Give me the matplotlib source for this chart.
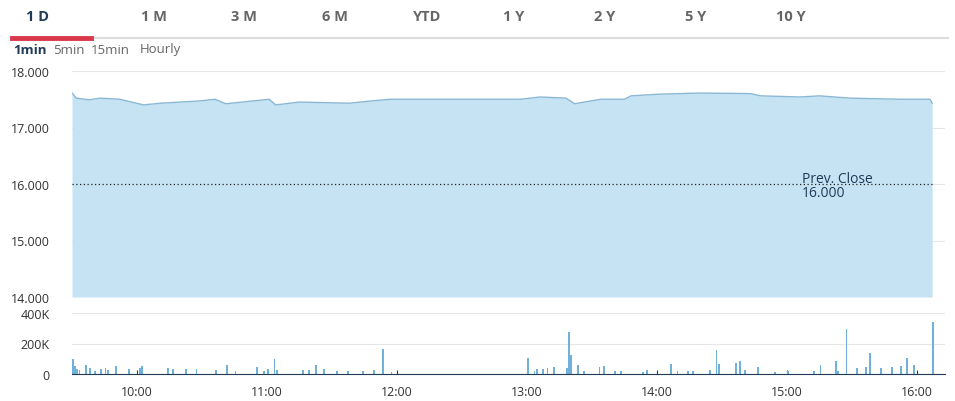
import numpy as np
import matplotlib.pyplot as plt

plt.rcParams['font.family'] = ['Open Sans', 'DejaVu Sans']

# minutes after 09:30
price_min = [0, 2, 8, 13, 22, 33, 41, 59, 66, 71, 91, 94, 105, 128, 138, 147,
             207, 216, 228, 232, 244, 255, 258, 271, 290, 313, 318, 336, 345, 359, 382, 396, 397]
price = [17.61, 17.52, 17.49, 17.52, 17.50, 17.40, 17.43, 17.47, 17.50, 17.42, 17.50, 17.40,
         17.45, 17.43, 17.47, 17.50, 17.50, 17.54, 17.52, 17.42, 17.50, 17.50, 17.56, 17.59,
         17.61, 17.60, 17.56, 17.54, 17.56, 17.52, 17.50, 17.50, 17.43]
prev_close = 16.0

vol_min = [0, 1, 2, 3, 6, 8, 10, 13, 15, 16, 20, 26, 31, 32, 44, 46, 52, 57, 66, 71, 75, 85,
           88, 90, 93, 94, 106, 109, 112, 116, 122, 127, 134, 139, 143, 147,
           210, 213, 214, 217, 219, 222, 228, 229, 230, 233, 236, 243, 245, 250, 253, 263, 265,
           276, 279, 284, 286, 294, 297, 298, 306, 308, 310, 316, 324, 330, 342, 345, 352, 353,
           357, 362, 366, 368, 373, 378, 382, 385, 388, 397]
volume = [97, 50, 32, 26, 58, 39, 22, 32, 37, 28, 50, 32, 37, 50, 37, 32, 32, 32, 26, 58, 22, 45,
          19, 32, 97, 26, 26, 28, 58, 32, 19, 22, 19, 26, 162, 11,
          104, 22, 32, 32, 37, 43, 37, 275, 123, 58, 22, 43, 50, 22, 17, 15,
          26, 63, 22, 22, 22, 26, 156, 65, 71, 84, 26, 43, 15, 22, 22, 58, 84,
          22, 292, 37, 45, 136, 39, 43, 54, 104, 58, 344]

hour_ticks = ["10:00", "11:00", "12:00", "13:00", "14:00", "15:00", "16:00"]
tabs = ["1 D", "1 M", "3 M", "6 M", "YTD", "1 Y", "2 Y", "5 Y", "10 Y"]
tab_x = [26, 141, 231, 322, 413, 503, 594, 685, 776]
intervals = ["1min", "5min", "15min", "Hourly"]

W, H = 955, 402
fig = plt.figure(figsize=(W / 100, H / 100), dpi=100)
xmax = (945 - 72) * 60 / 130
text_c = '#333333'
grid_c = '#e6e6e6'

# price panel
ax = fig.add_axes([72 / W, 1 - 298 / H, (945 - 72) / W, (298 - 72) / H])
ax.fill_between(price_min, price, 14, color='#c6e3f4', lw=0)
ax.plot(price_min, price, color='#8ab8d4', lw=1)
ax.axhline(prev_close, color='#222222', ls=(0, (1, 2)), lw=0.9, xmax=(397) / xmax)
ax.text(337, 15.97, "Prev. Close\n16.000", color='#1f3b57', fontsize=10,
        va='center', ha='left', linespacing=0.95)
ax.set_xlim(0, xmax)
ax.set_ylim(14, 18)
ax.set_yticks([14, 15, 16, 17, 18])
ax.set_yticklabels(["14.000", "15.000", "16.000", "17.000", "18.000"])
ax.grid(axis='y', color=grid_c, lw=0.8)
ax.set_axisbelow(True)
ax.set_xticks([])
for s in ax.spines.values():
    s.set_visible(False)
ax.tick_params(axis='y', length=0, labelsize=9, labelcolor=text_c, pad=16)

# volume panel
vx = fig.add_axes([72 / W, 1 - 375 / H, (945 - 72) / W, (375 - 314) / H])
vx.bar(vol_min, volume, width=0.9, color='#6fb1d9', align='edge')
vx.set_xlim(0, xmax)
vx.set_ylim(0, 400)
vx.set_yticks([0, 200, 400])
vx.set_yticklabels(["0", "200K", "400K"])
vx.grid(axis='y', color=grid_c, lw=0.8)
vx.set_axisbelow(True)
for s in ['top', 'right', 'left']:
    vx.spines[s].set_visible(False)
vx.spines['bottom'].set_color('#1f3b57')
vx.set_xticks([30 + 60 * i for i in range(len(hour_ticks))])
vx.set_xticklabels(hour_ticks)
vx.tick_params(axis='y', length=0, labelsize=9, labelcolor=text_c, pad=16)
vx.tick_params(axis='x', length=3, direction='in', color='#1f3b57', labelsize=9,
               labelcolor=text_c, pad=8)

# tabs header
for i, (t, x) in enumerate(zip(tabs, tab_x)):
    fig.text(x / W, 1 - 17 / H, t, fontsize=10.5, fontweight='bold',
             color='#1f3b57' if i == 0 else '#666666', va='center', ha='left')
fig.add_artist(plt.Line2D([12 / W, 948 / W], [1 - 39 / H] * 2, color='#dddddd', lw=1.5))
fig.add_artist(plt.Line2D([12 / W, 91 / W], [1 - 38.5 / H] * 2, color='#d9374a', lw=3.5))
ix = [13, 53, 91, 140]
for i, (t, x) in enumerate(zip(intervals, ix)):
    fig.text(x / W, 1 - 50 / H, t, fontsize=9.5, fontweight='bold' if i == 0 else 'normal',
             color='#1f3b57' if i == 0 else '#666666', va='center', ha='left')

fig.savefig("out.png", dpi=100)
